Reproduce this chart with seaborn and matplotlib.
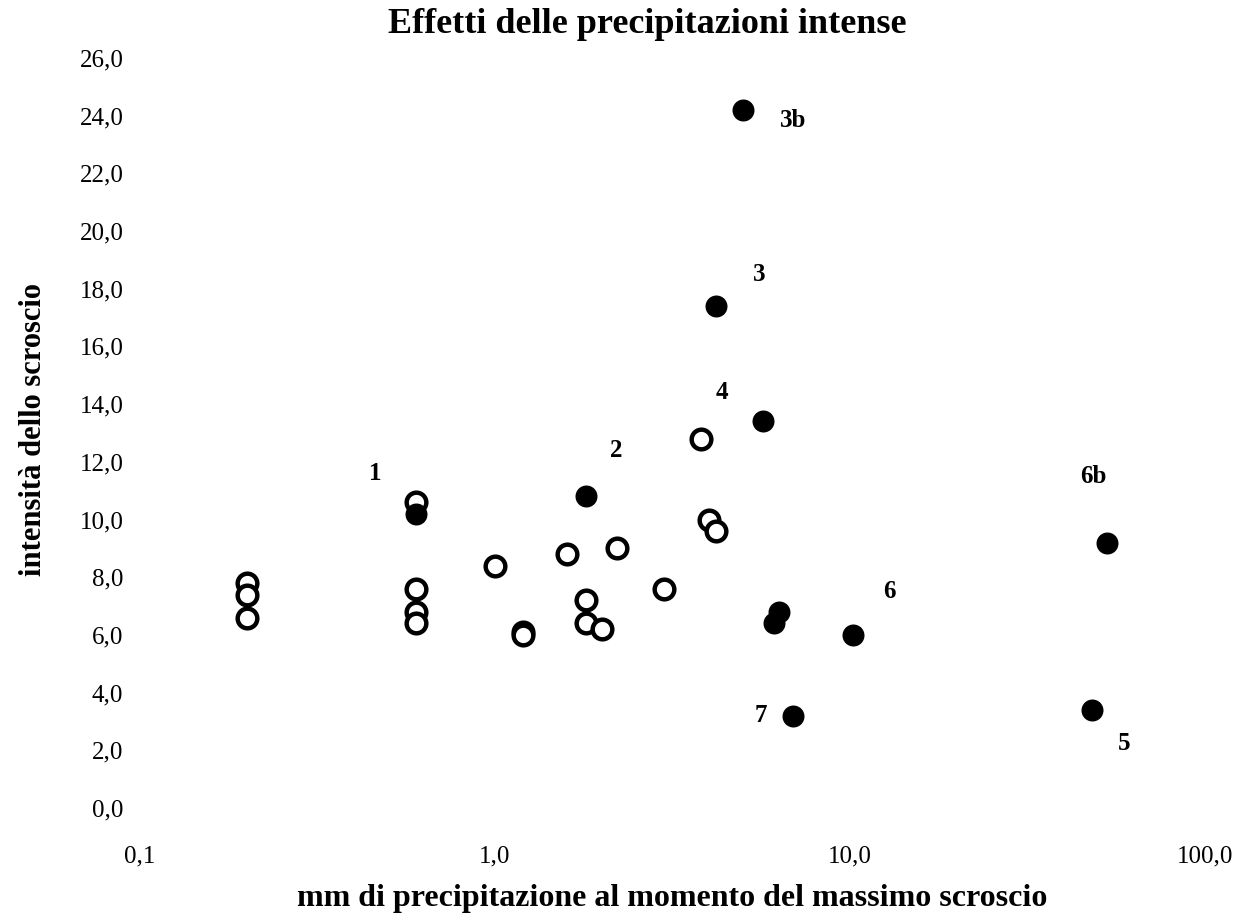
import matplotlib
matplotlib.use("Agg")
import matplotlib.pyplot as plt
import seaborn as sns
import pandas as pd
from matplotlib.ticker import FixedLocator, FuncFormatter

# --- data ---
open_x = [0.2, 0.2, 0.2, 0.6, 0.6, 0.6, 0.6, 1.0, 1.2, 1.2, 1.6, 1.8, 1.8, 2.0, 2.2, 3.0, 3.8, 4.0, 4.2]
open_y = [7.8, 7.4, 6.6, 10.6, 7.6, 6.8, 6.4, 8.4, 6.1, 6.0, 8.8, 7.2, 6.4, 6.2, 9.0, 7.6, 12.8, 10.0, 9.6]
filled_x = [0.6, 1.8, 4.2, 5.0, 5.7, 6.1, 6.3, 6.9, 10.2, 48.0, 53.0]
filled_y = [10.2, 10.8, 17.4, 24.2, 13.4, 6.4, 6.8, 3.2, 6.0, 3.4, 9.2]
label_text = ["1", "2", "3", "3b", "4", "6b", "6", "7", "5"]
label_x = [0.46, 2.2, 5.56, 6.9, 4.36, 48.4, 12.9, 5.6, 59.0]
label_y = [11.6, 12.4, 18.5, 23.85, 14.4, 11.5, 7.5, 3.2, 2.25]
x_ticks = [0.1, 1.0, 10.0, 100.0]
y_ticks = [0, 2, 4, 6, 8, 10, 12, 14, 16, 18, 20, 22, 24, 26]

sns.set_theme(style="white")
plt.rcParams['font.family'] = ['Liberation Serif', 'DejaVu Serif']

fig = plt.figure(figsize=(12.49, 9.16), dpi=100)
ax = fig.add_axes([0.1121, 0.1179, 0.8527, 0.8188])

df_open = pd.DataFrame({"x": open_x, "y": open_y})
df_fill = pd.DataFrame({"x": filled_x, "y": filled_y})
sns.scatterplot(data=df_open, x="x", y="y", ax=ax, s=200, facecolor="white",
                edgecolor="black", linewidth=3.2, zorder=3)
sns.scatterplot(data=df_fill, x="x", y="y", ax=ax, s=220, color="black",
                edgecolor="black", linewidth=1, zorder=4)

for t, lx, ly in zip(label_text, label_x, label_y):
    ax.text(lx, ly, t, ha="center", va="center", fontsize=18, fontweight="bold", color="black")

ax.set_xscale("log")
ax.set_xlim(0.1, 100)
ax.set_ylim(0, 26)
ax.xaxis.set_major_locator(FixedLocator(x_ticks))
ax.xaxis.set_minor_locator(FixedLocator([]))
ax.yaxis.set_major_locator(FixedLocator(y_ticks))
ax.xaxis.set_major_formatter(FuncFormatter(lambda v, p: f"{v:.1f}".replace(".", ",")))
ax.yaxis.set_major_formatter(FuncFormatter(lambda v, p: f"{v:.1f}".replace(".", ",")))
ax.tick_params(axis="both", length=0, labelsize=18, colors="black")
ax.tick_params(axis="x", pad=27)
ax.tick_params(axis="y", pad=12)
for s in ax.spines.values():
    s.set_visible(False)
ax.grid(False)

ax.set_xlabel("mm di precipitazione al momento del massimo scroscio", fontsize=23,
              fontweight="bold", color="black")
ax.xaxis.set_label_coords(0.5, -0.12)
ax.xaxis.label.set_verticalalignment("center")
ax.set_ylabel("intensità dello scroscio", fontsize=22, fontweight="bold", color="black")
ax.yaxis.set_label_coords(-0.1, 0.504)
ax.yaxis.label.set_verticalalignment("center")
ax.text(0.476, 1.045, "Effetti delle precipitazioni intense", transform=ax.transAxes,
        ha="center", va="center", fontsize=26, fontweight="bold", color="black")

fig.savefig("out.png", dpi=100, facecolor="white")
